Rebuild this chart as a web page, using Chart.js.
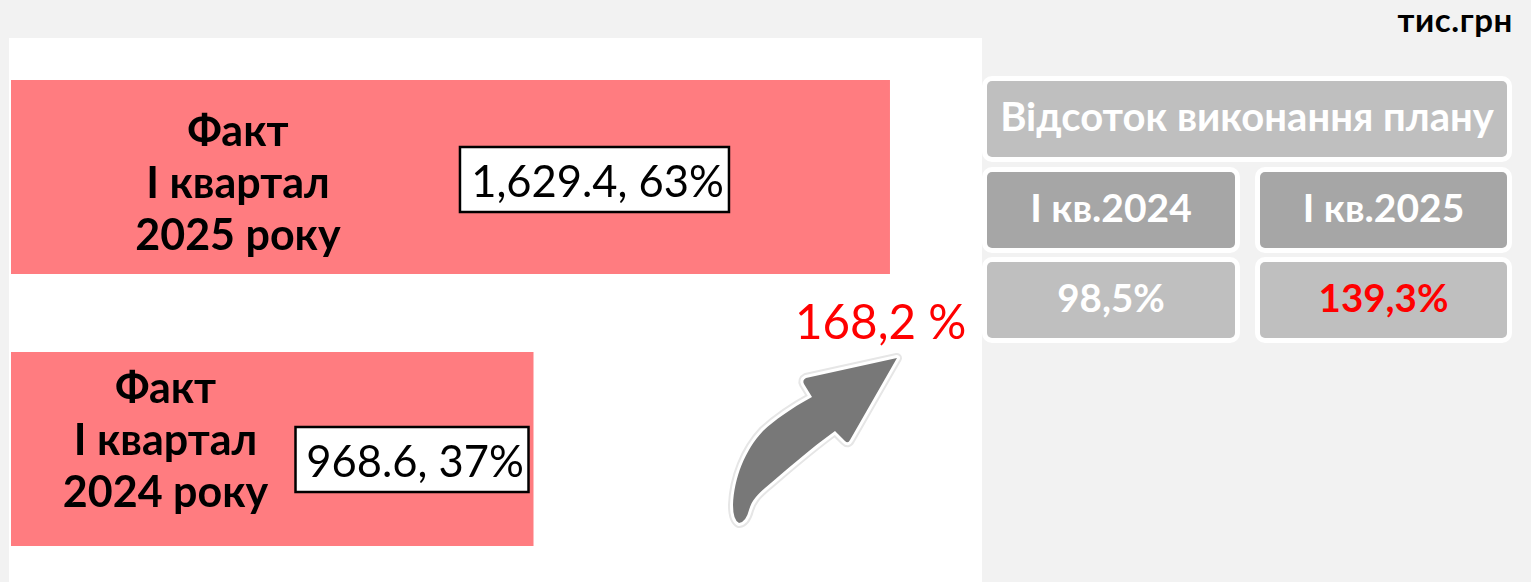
<!DOCTYPE html>
<html lang="uk">
<head>
<meta charset="utf-8">
<title>Факт I квартал</title>
<script src="https://cdn.jsdelivr.net/npm/chart.js@4"></script>
<style>
html, body { margin: 0; padding: 0; width: 1531px; height: 582px; overflow: hidden; background: #f2f2f2; font-family: Lato, "Open Sans", sans-serif; }
#panel { position: absolute; left: 9px; top: 38px; width: 973px; height: 544px; background: #fff; }
#c1 { position: absolute; left: 0; top: 0; }
#unit { position: absolute; right: 18px; top: -1px; font-size: 33px; font-weight: 700; color: #000; letter-spacing: .6px; }
#growth { position: absolute; left: 795px; top: 292px; font-size: 47.5px; color: #f00; white-space: nowrap; }
#arrow { position: absolute; left: 0; top: 0; }
.tile { position: absolute; box-sizing: border-box; display: flex; align-items: center; justify-content: center; padding-bottom: 6px; color: #fff; font-weight: 700; border-radius: 5px; background: #bfbfbf; box-shadow: 0 0 0 5px #fff; white-space: nowrap; }
.head { background: #a6a6a6; }
</style>
</head>
<body>
<div id="panel"></div>
<canvas id="c1" width="982" height="600"></canvas>
<svg id="arrow" width="982" height="582">
    <defs>
        <path id="arrowShape" stroke-linejoin="round" d="M897 358 L806 378 Q802 380 804 384 L812 397 C790 409 775 420 763 431 C745 450 734 478 733 505 Q733 520 739 523 Q746 522 749 510 C752 500 757 495 765 488 C785 471 810 449 835 431 L845 441 Q848 444 850 440 Z"/>
        <filter id="soft"><feGaussianBlur stdDeviation="0.5"/></filter>
    </defs>
    <g filter="url(#soft)">
        <use href="#arrowShape" fill="#e6e6e6" stroke="#e6e6e6" stroke-width="10"/>
        <use href="#arrowShape" fill="#fff" stroke="#fff" stroke-width="6"/>
        <use href="#arrowShape" fill="#787878"/>
    </g>
</svg>
<div id="growth"></div>
<div id="unit"></div>
<div class="tile" id="tTitle" style="left:987px;top:81px;width:520px;height:76px;font-size:40px"></div>
<div class="tile head" id="tQ1" style="left:987px;top:172px;width:248px;height:76px;font-size:39px"></div>
<div class="tile head" id="tQ2" style="left:1260px;top:172px;width:247px;height:76px;font-size:39px"></div>
<div class="tile" id="tV1" style="left:987px;top:262px;width:248px;height:76px;font-size:38.5px"></div>
<div class="tile" id="tV2" style="left:1260px;top:262px;width:247px;height:76px;font-size:38.5px;color:#f00"></div>
<script>
const categories = [
    ["Факт", "I квартал", "2025 року"],
    ["Факт", "I квартал", "2024 року"]
];
const factValues = [1629.4, 968.6];
const shares = [63, 37];
const unitText = "тис.грн";
const growthText = "168,2 %";
const tableTitle = "Відсоток виконання плану";
const tableHeads = ["I кв.2024", "I кв.2025"];
const tableValues = ["98,5%", "139,3%"];

document.getElementById("unit").textContent = unitText;
document.getElementById("growth").textContent = growthText;
document.getElementById("tTitle").textContent = tableTitle;
document.getElementById("tQ1").textContent = tableHeads[0];
document.getElementById("tQ2").textContent = tableHeads[1];
document.getElementById("tV1").textContent = tableValues[0];
document.getElementById("tV2").textContent = tableValues[1];

// where the labels sit inside each bar, px from the bar's right end / centre
const catCenterOff = [652, 368];
const catShiftY = [7, -8];
const boxRightOff = [161, 5];
const boxW = [269, 233];
const boxTop = [-30, -22];
const lineGap = 52;

const barLabels = {
    id: "barLabels",
    afterDatasetsDraw(chart) {
        const ctx = chart.ctx;
        chart.getDatasetMeta(0).data.forEach((bar, i) => {
            ctx.save();
            ctx.textAlign = "center";
            ctx.textBaseline = "middle";
            ctx.fillStyle = "#000";
            ctx.font = "700 43px Lato, 'Open Sans', sans-serif";
            categories[i].forEach((line, k) => {
                ctx.fillText(line, bar.x - catCenterOff[i], bar.y + (k - 1) * lineGap + catShiftY[i]);
            });

            const x = bar.x - boxRightOff[i] - boxW[i];
            const y = bar.y + boxTop[i];
            const txt = factValues[i].toLocaleString("en-US", { minimumFractionDigits: 1 }) + ", " + shares[i] + "%";
            ctx.fillStyle = "#fff";
            ctx.strokeStyle = "#000";
            ctx.lineWidth = 2.5;
            ctx.fillRect(x, y, boxW[i], 65);
            ctx.strokeRect(x, y, boxW[i], 65);
            ctx.fillStyle = "#000";
            ctx.font = "400 43.5px Lato, 'Open Sans', sans-serif";
            ctx.fillText(txt, x + boxW[i] / 2 + 3, y + 36);
            ctx.restore();
        });
    }
};

new Chart(document.getElementById("c1").getContext("2d"), {
    type: "bar",
    data: {
        labels: categories,
        datasets: [{
            data: factValues,
            backgroundColor: "#ff7c80",
            barPercentage: 194 / 272,
            categoryPercentage: 1
        }]
    },
    options: {
        indexAxis: "y",
        responsive: false,
        animation: false,
        devicePixelRatio: 1,
        layout: { padding: { left: 11, right: 0, top: 41, bottom: 15 } },
        plugins: { legend: { display: false }, tooltip: { enabled: false } },
        scales: {
            x: { display: false, min: 0, max: 1800 },
            y: { display: false }
        }
    },
    plugins: [barLabels]
});
</script>
</body>
</html>
